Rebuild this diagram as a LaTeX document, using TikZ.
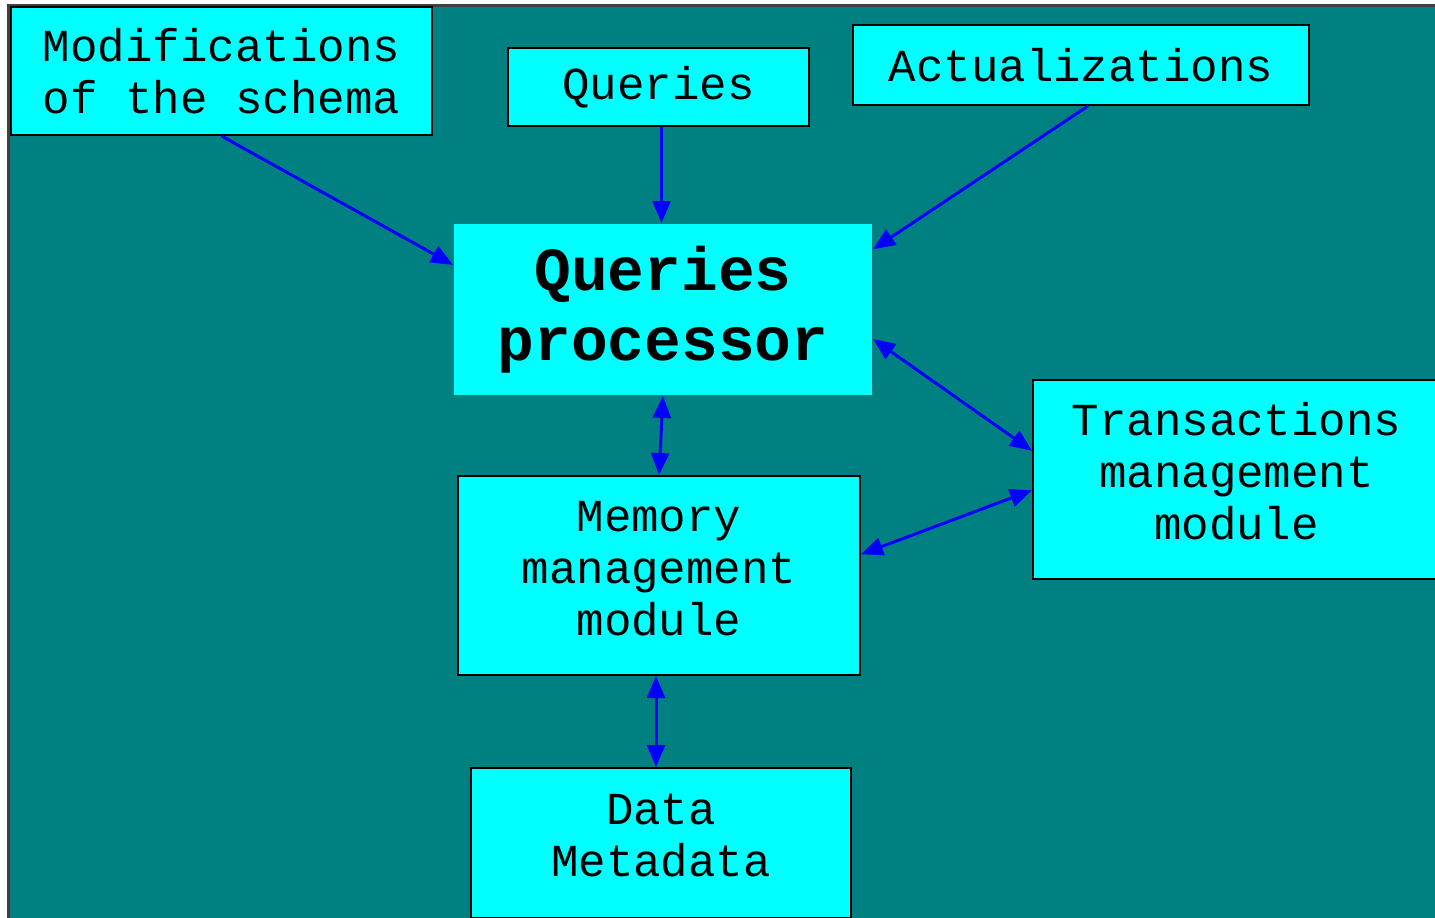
\documentclass[tikz,border=0pt]{standalone}
\usepackage{fontspec}
\newfontfamily\boxfont{Liberation Mono}
\usetikzlibrary{arrows.meta}
\definecolor{bgteal}{HTML}{008080}
\definecolor{boxcyan}{HTML}{00FFFF}

\begin{document}
\begin{tikzpicture}[x=0.5pt,y=-0.5pt,every node/.style={align=center},
  boxtext/.style={inner sep=0pt,font=\boxfont\fontsize{22.9}{26}\selectfont},
  box/.style={boxtext,draw=black,line width=1pt,fill=boxcyan},
  link/.style={blue,line width=1.5pt,-{Triangle[length=11pt,width=9pt]}},
  twoway/.style={link,{Triangle[length=11pt,width=9pt]}-{Triangle[length=11pt,width=9pt]}}]
\useasboundingbox (0,0) rectangle (1435,917);
\clip (0,0) rectangle (1435,917);
\fill[white] (0,0) rectangle (1435,917);
\draw[fill=bgteal,draw=black!75,line width=1.5pt] (8,5) rectangle (1460,940);

\node[box,minimum width=210.5pt,minimum height=64pt] (mod) at (221.5,71) {Modifications\\of the schema};
\node[box,minimum width=150.5pt,minimum height=39pt] (qry) at (658.5,87) {Queries};
\node[box,minimum width=228pt,minimum height=40pt] (act) at (1081,65) {Actualizations};
\node[box,draw=none,minimum width=209pt,minimum height=85.5pt,
  font=\boxfont\bfseries\fontsize{30.6}{35}\selectfont] (qp) at (663,309.5) {Queries\\processor};
\node[box,minimum width=203.5pt,minimum height=99.5pt] (tm) at (1236.5,479.5) {};
\node[box,minimum width=201pt,minimum height=99.5pt] (mm) at (659,575.5) {};
\node[box,minimum width=190pt,minimum height=75pt] (dm) at (661,843) {};
\node[boxtext] (tmtext) at ([yshift=4pt]tm.center) {Transactions\\management\\module};
\node[boxtext] (mmtext) at ([yshift=3.5pt]mm.center) {Memory\\management\\module};
\node[boxtext] (dmtext) at ([yshift=3.5pt]dm.center) {Data\\Metadata};

\draw[link] (mod.south) -- (qp.168);
\draw[link] ([xshift=1.5pt]qry.south) -- ([xshift=1.5pt]qry.south |- qp.north);
\draw[link] ([xshift=3.5pt]act.south) -- (qp.16);
\draw[twoway] (qp.352.5) -- (tm.172);
\draw[twoway] (mm.6) -- (tm.183);
\draw[twoway] (qp.south) -- (mm.north);
\draw[twoway] ([xshift=-1.5pt]mm.south) -- ([xshift=-1.5pt]mm.south |- dm.north);
\end{tikzpicture}
\end{document}
